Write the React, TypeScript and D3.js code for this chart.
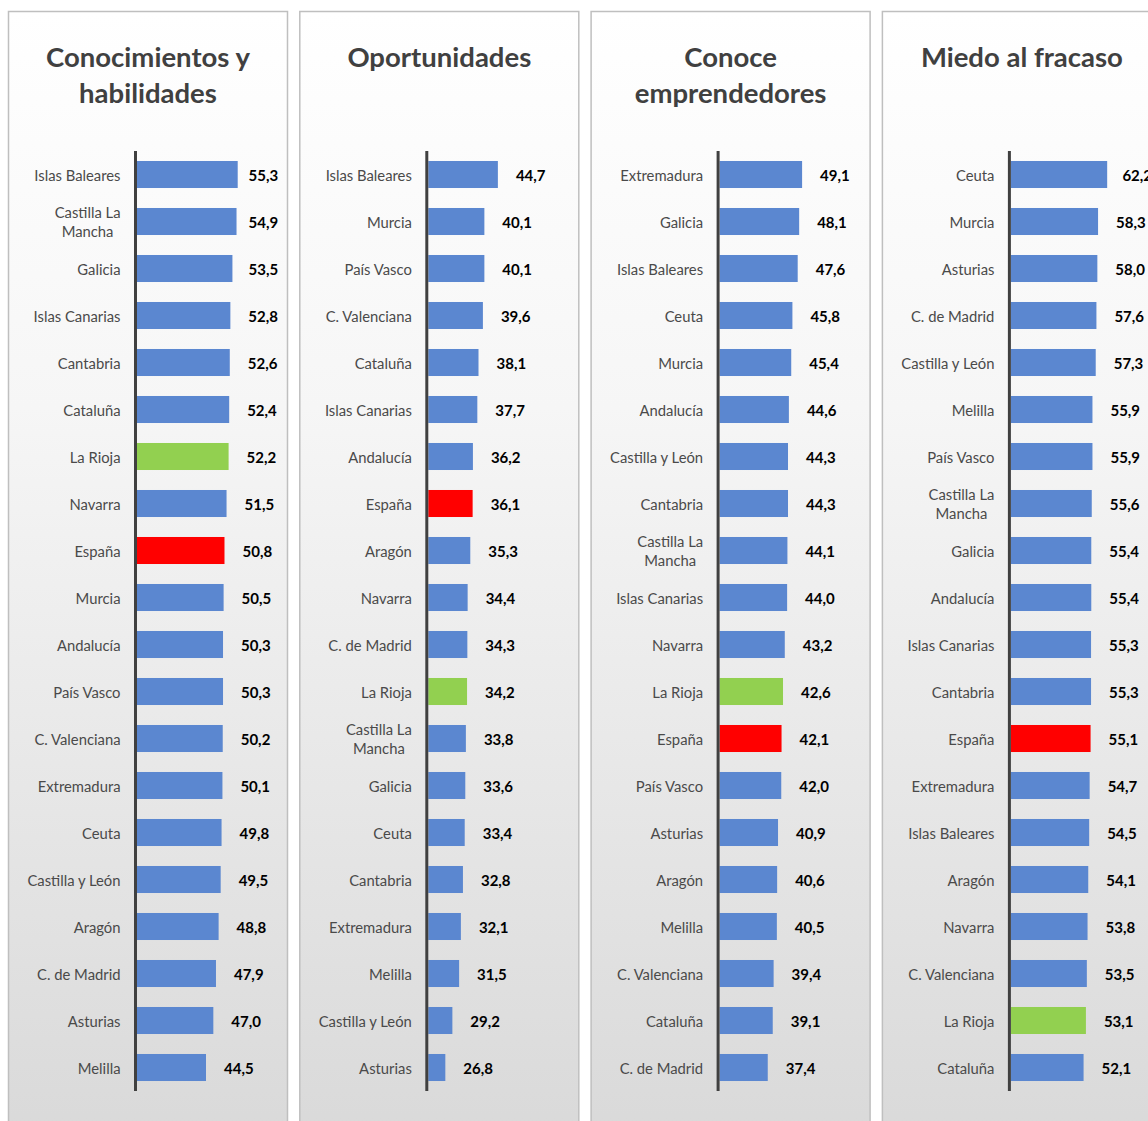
import React, { useEffect, useRef } from "react";
import * as d3 from "d3";

const titles1 = ["Conocimientos y", "habilidades"];
const cats1 = ["Islas Baleares", "Castilla La Mancha", "Galicia", "Islas Canarias", "Cantabria", "Cataluña", "La Rioja", "Navarra", "España", "Murcia", "Andalucía", "País Vasco", "C. Valenciana", "Extremadura", "Ceuta", "Castilla y León", "Aragón", "C. de Madrid", "Asturias", "Melilla"];
const vals1 = [55.3, 54.9, 53.5, 52.8, 52.6, 52.4, 52.2, 51.5, 50.8, 50.5, 50.3, 50.3, 50.2, 50.1, 49.8, 49.5, 48.8, 47.9, 47.0, 44.5];

const titles2 = ["Oportunidades"];
const cats2 = ["Islas Baleares", "Murcia", "País Vasco", "C. Valenciana", "Cataluña", "Islas Canarias", "Andalucía", "España", "Aragón", "Navarra", "C. de Madrid", "La Rioja", "Castilla La Mancha", "Galicia", "Ceuta", "Cantabria", "Extremadura", "Melilla", "Castilla y León", "Asturias"];
const vals2 = [44.7, 40.1, 40.1, 39.6, 38.1, 37.7, 36.2, 36.1, 35.3, 34.4, 34.3, 34.2, 33.8, 33.6, 33.4, 32.8, 32.1, 31.5, 29.2, 26.8];

const titles3 = ["Conoce", "emprendedores"];
const cats3 = ["Extremadura", "Galicia", "Islas Baleares", "Ceuta", "Murcia", "Andalucía", "Castilla y León", "Cantabria", "Castilla La Mancha", "Islas Canarias", "Navarra", "La Rioja", "España", "País Vasco", "Asturias", "Aragón", "Melilla", "C. Valenciana", "Cataluña", "C. de Madrid"];
const vals3 = [49.1, 48.1, 47.6, 45.8, 45.4, 44.6, 44.3, 44.3, 44.1, 44.0, 43.2, 42.6, 42.1, 42.0, 40.9, 40.6, 40.5, 39.4, 39.1, 37.4];

const titles4 = ["Miedo al fracaso"];
const cats4 = ["Ceuta", "Murcia", "Asturias", "C. de Madrid", "Castilla y León", "Melilla", "País Vasco", "Castilla La Mancha", "Galicia", "Andalucía", "Islas Canarias", "Cantabria", "España", "Extremadura", "Islas Baleares", "Aragón", "Navarra", "C. Valenciana", "La Rioja", "Cataluña"];
const vals4 = [62.2, 58.3, 58.0, 57.6, 57.3, 55.9, 55.9, 55.6, 55.4, 55.4, 55.3, 55.3, 55.1, 54.7, 54.5, 54.1, 53.8, 53.5, 53.1, 52.1];

const axisMin = [21, 21, 21, 21];
const axisMax = [60, 60, 60, 70];

const highlightRed = "España";
const highlightGreen = "La Rioja";

const W = 1148;
const H = 1121;
const FONT = "Lato, 'Open Sans', sans-serif";
const CAT_SIZE = 14.8;

export default function App() {
  const ref = useRef<SVGSVGElement>(null);

  useEffect(() => {
    const svg = d3.select(ref.current);
    svg.selectAll("*").remove();

    const defs = svg.append("defs");
    const grad = defs.append("linearGradient").attr("id", "bg").attr("x1", 0).attr("y1", 0).attr("x2", 0).attr("y2", 1);
    grad.append("stop").attr("offset", "0%").attr("stop-color", "#ffffff");
    grad.append("stop").attr("offset", "35%").attr("stop-color", "#f6f6f6");
    grad.append("stop").attr("offset", "100%").attr("stop-color", "#d9d9d9");

    const panels = [
      { titles: titles1, cats: cats1, vals: vals1 },
      { titles: titles2, cats: cats2, vals: vals2 },
      { titles: titles3, cats: cats3, vals: vals3 },
      { titles: titles4, cats: cats4, vals: vals4 },
    ];

    const fmt = (v: number) => d3.format(".1f")(v).replace(".", ",");

    const measure = (g: any, s: string) => {
      const t = g.append("text").attr("font-family", FONT).attr("font-size", CAT_SIZE).text(s);
      const wd = (t.node() as SVGTextElement).getComputedTextLength();
      t.remove();
      return wd;
    };

    panels.forEach((p, i) => {
      const left = 8.5 + i * 291.3;
      const top = 11.5;
      const pw = 279;
      const g = svg.append("g").attr("transform", `translate(${left},${top})`);

      g.append("rect")
        .attr("x", 0).attr("y", 0).attr("width", pw).attr("height", 1130)
        .attr("fill", "url(#bg)").attr("stroke", "#bfbfbf").attr("stroke-width", 1.5);

      p.titles.forEach((t, k) => {
        g.append("text")
          .attr("x", pw / 2).attr("y", 44.5 + k * 36)
          .attr("text-anchor", "middle").attr("dominant-baseline", "central")
          .attr("font-family", FONT).attr("font-weight", 700).attr("font-size", 27.5)
          .attr("fill", "#404040").text(t);
      });

      const axisX = 127;
      const y0 = 151 - top;
      const y1 = 1091 - top;
      const y = d3.scaleBand<string>().domain(p.cats).range([y0, y1]).paddingInner(0.425).paddingOuter(0.2125);
      const x = d3.scaleLinear().domain([axisMin[i], axisMax[i]]).range([axisX + 1.5, axisX + 1.5 + 114.5]);

      p.cats.forEach((c, j) => {
        const v = p.vals[j];
        const yc = (y(c) as number) + y.bandwidth() / 2;
        const color = c === highlightRed ? "#ff0000" : c === highlightGreen ? "#92d050" : "#5b87d0";
        g.append("rect")
          .attr("x", x(axisMin[i])).attr("y", y(c) as number)
          .attr("width", x(v) - x(axisMin[i])).attr("height", y.bandwidth())
          .attr("fill", color);

        const lx = Math.min(x(v) + 18, 240);
        g.append("text")
          .attr("x", lx).attr("y", yc)
          .attr("dominant-baseline", "central")
          .attr("font-family", FONT).attr("font-weight", 700).attr("font-size", 15)
          .attr("fill", "#000").text(fmt(v));

        const right = axisX - 15;
        const full = measure(g, c);
        let lines: string[] = [c];
        if (full > 100) {
          const words = c.split(" ");
          lines = [];
          let cur = "";
          words.forEach((w) => {
            const trial = cur ? cur + " " + w : w;
            if (measure(g, trial) > 95 && cur) {
              lines.push(cur);
              cur = w;
            } else cur = trial;
          });
          if (cur) lines.push(cur);
        }
        const widths = lines.map((l) => measure(g, l));
        const maxW = Math.max(...widths);
        const lh = 18.5;
        lines.forEach((l, k) => {
          g.append("text")
            .attr("x", lines.length > 1 ? right - maxW / 2 : right)
            .attr("y", yc + (k - (lines.length - 1) / 2) * lh)
            .attr("text-anchor", lines.length > 1 ? "middle" : "end")
            .attr("dominant-baseline", "central")
            .attr("font-family", FONT).attr("font-size", CAT_SIZE)
            .attr("fill", "#4a4a4a").text(l);
        });
      });

      g.append("line")
        .attr("x1", axisX).attr("x2", axisX)
        .attr("y1", y0).attr("y2", y1)
        .attr("stroke", "#404040").attr("stroke-width", 3);
    });
  }, []);

  return (
    <svg ref={ref} width={W} height={H} style={{ position: "absolute", left: 0, top: 0, background: "#fff" }} />
  );
}
